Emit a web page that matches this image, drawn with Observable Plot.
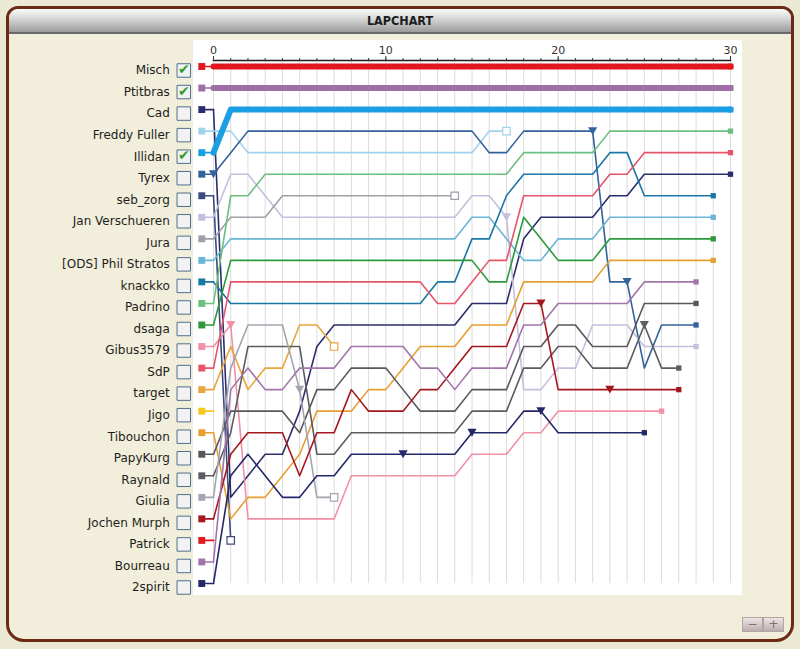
<!DOCTYPE html>
<html><head><meta charset="utf-8">
<script src="https://cdn.jsdelivr.net/npm/d3@7"></script>
<script src="https://cdn.jsdelivr.net/npm/@observablehq/plot@0.6"></script>
<style>
html,body{margin:0;padding:0;width:800px;height:649px;overflow:hidden;background:#ebe8d3;font-family:"DejaVu Sans",Verdana,sans-serif;}
#panel{position:absolute;left:6px;top:6px;width:782px;height:630px;border:3px solid #6c2a12;border-radius:12px 12px 18px 18px;background:#f1eedb;}
#title{position:absolute;left:0;top:0;right:0;height:23px;background:linear-gradient(#fbfbfb,#d4d4d4 45%,#9b9b9b);border-radius:9px 9px 0 0;border-bottom:2px solid #6a6a6a;text-align:center;font-family:"DejaVu Sans Condensed","DejaVu Sans",sans-serif;font-stretch:condensed;font-weight:bold;font-size:12.5px;line-height:24px;color:#1c1c1c;}
#white{position:absolute;left:193px;top:40px;width:549px;height:555px;background:#ffffff;}
#chart{position:absolute;left:0;top:40px;}
.btn{position:absolute;top:617px;width:19px;height:13px;background:linear-gradient(#eee4e4,#bcaeae);border:1px solid #b3a3a3;color:#7a7070;font-size:12px;line-height:13px;text-align:center;}
</style></head>
<body>
<div id="panel"><div id="title">LAPCHART</div></div>
<div id="white"></div>
<div id="chart"></div>
<div class="btn" style="left:742px">&#8722;</div>
<div class="btn" style="left:763px">+</div>
<script>
// ---------- data ----------
const drivers = ["Misch","Ptitbras","Cad","Freddy Fuller","Illidan","Tyrex","seb_zorg","Jan Verschueren","Jura","[ODS] Phil Stratos","knackko","Padrino","dsaga","Gibus3579","SdP","target","Jigo","Tibouchon","PapyKurg","Raynald","Giulia","Jochen Murph","Patrick","Bourreau","2spirit"];
const colors = ["#e2161d","#9e6ea6","#2b2e6c","#9fd2ec","#1a9fe4","#33639c","#3b4c7c","#c3c0dd","#9fa0a8","#6ab6d6","#1877a6","#6cbf7e","#2c9a3a","#f290a6","#e6556a","#e9a53e","#f6c61e","#e79f31","#58585c","#5d5d61","#a3a5b0","#a4171f","#e3191d","#a275aa","#24286a"];
const checkedDrivers = ["Misch","Ptitbras","Illidan"];
const retiredDrivers = ["seb_zorg","target","Giulia","Jura","Freddy Fuller"];
const nonStarters = ["Jigo","Patrick"];
const pitDrivers = ["Tyrex","Gibus3579","Giulia","2spirit","2spirit","Jan Verschueren","Jochen Murph","2spirit","Tyrex","Jochen Murph","Tyrex","Raynald"];
const pitLaps    = [0,1,5,11,15,17,19,19,22,23,24,25];
const laps = [0,1,2,3,4,5,6,7,8,9,10,11,12,13,14,15,16,17,18,19,20,21,22,23,24,25,26,27,28,29,30];
const tickValues = [0,10,20,30];
const tickLabels = ["0","10","20","30"];

// position per lap (lap 0 = grid)
const pMisch     = [1,1,1,1,1,1,1,1,1,1,1,1,1,1,1,1,1,1,1,1,1,1,1,1,1,1,1,1,1,1,1];
const pPtitbras  = [2,2,2,2,2,2,2,2,2,2,2,2,2,2,2,2,2,2,2,2,2,2,2,2,2,2,2,2,2,2,2];
const pCad       = [3,21,20,19,19,17,14,13,13,13,13,13,13,13,13,12,12,12,9,8,8,8,8,7,7,6,6,6,6,6,6];
const pFreddy    = [4,4,5,5,5,5,5,5,5,5,5,5,5,5,5,5,4,4];
const pIllidan   = [5,3,3,3,3,3,3,3,3,3,3,3,3,3,3,3,3,3,3,3,3,3,3,3,3,3,3,3,3,3,3];
const pTyrex     = [6,5,4,4,4,4,4,4,4,4,4,4,4,4,4,4,5,5,4,4,4,4,4,11,11,15,13,13,13];
const pSebZorg   = [7,23];
const pJan       = [8,6,6,7,8,8,8,8,8,8,8,8,8,8,8,7,7,8,16,16,15,15,13,13,13,14,14,14,14];
const pJura      = [9,8,8,8,7,7,7,7,7,7,7,7,7,7,7];
const pODS       = [10,9,9,9,9,9,9,9,9,9,9,9,9,9,9,8,8,9,10,10,9,9,9,8,8,8,8,8,8,8];
const pKnackko   = [11,12,12,12,12,12,12,12,12,12,12,12,12,11,11,9,9,7,6,6,6,6,6,5,5,7,7,7,7,7];
const pPadrino   = [12,7,7,6,6,6,6,6,6,6,6,6,6,6,6,6,6,6,5,5,5,5,5,4,4,4,4,4,4,4,4];
const pDsaga     = [13,10,10,10,10,10,10,10,10,10,10,10,10,10,10,10,11,11,8,9,10,10,10,9,9,9,9,9,9,9];
const pGibus     = [14,13,22,22,22,22,22,22,20,20,20,20,20,20,20,19,19,19,18,18,17,17,17,17,17,17,17];
const pSdP       = [15,11,11,11,11,11,11,11,11,11,11,11,11,12,12,11,10,10,7,7,7,7,7,6,6,5,5,5,5,5,5];
const pTarget    = [16,14,16,15,15,13,13,14];
const pJigo      = [17];
const pTibouchon = [18,22,21,21,20,19,17,17,17,16,16,15,14,14,14,13,13,13,11,11,11,11,11,10,10,10,10,10,10,10];
const pPapyKurg  = [19,17,17,17,17,18,16,16,15,15,15,16,17,17,17,16,16,16,14,14,13,13,14,14,14,12,12,12,12];
const pRaynald   = [20,18,14,14,14,14,19,19,18,18,18,18,18,18,18,17,17,17,15,15,14,14,15,15,15,13,15,15];
const pGiulia    = [21,15,13,13,13,16,21,21];
const pJochen    = [22,19,18,18,18,20,18,18,16,17,17,17,16,16,15,14,14,14,12,12,16,16,16,16,16,16,16,16];
const pPatrick   = [23];
const pBourreau  = [24,16,15,16,16,15,15,15,14,14,14,14,15,15,16,15,15,15,13,13,12,12,12,12,12,11,11,11,11];
const p2spirit   = [25,20,19,20,21,21,20,20,19,19,19,19,19,19,19,18,18,18,17,17,18,18,18,18,18,18];

const positions = [pMisch,pPtitbras,pCad,pFreddy,pIllidan,pTyrex,pSebZorg,pJan,pJura,pODS,pKnackko,pPadrino,pDsaga,pGibus,pSdP,pTarget,pJigo,pTibouchon,pPapyKurg,pRaynald,pGiulia,pJochen,pPatrick,pBourreau,p2spirit];

// ---------- layout constants ----------
const legendLap = -0.68;

// ---------- derived tables ----------
const rows = [];
drivers.forEach((d,i)=>positions[i].forEach((p,l)=>rows.push({driver:d,lap:laps[l],pos:p,color:colors[i],thick:checkedDrivers.includes(d)})));
const legendRows = drivers.map((d,i)=>({driver:d,lap:legendLap,pos:positions[i][0],color:colors[i],checked:checkedDrivers.includes(d)}));
const connRows = legendRows.flatMap(r=>[r,{...r,lap:laps[0]}]);
const lastRows = drivers.map((d,i)=>({driver:d,lap:laps[positions[i].length-1],pos:positions[i][positions[i].length-1],color:colors[i],thick:checkedDrivers.includes(d)}))
  .filter(r=>!nonStarters.includes(r.driver));
const finRows = lastRows.filter(r=>!retiredDrivers.includes(r.driver));
const retRows = lastRows.filter(r=>retiredDrivers.includes(r.driver));
const pitRows = pitDrivers.map((d,k)=>{const i=drivers.indexOf(d);return {driver:d,lap:pitLaps[k],pos:positions[i][pitLaps[k]],color:colors[i]};});

const downTriangle = {draw(ctx,size){const s=Math.sqrt(size);const h=s*0.85;ctx.moveTo(-s/2,-h/2);ctx.lineTo(s/2,-h/2);ctx.lineTo(0,h/2);ctx.closePath();}};

const chart = Plot.plot({
  width:800, height:560,
  marginLeft:213, marginRight:70, marginTop:20, marginBottom:17,
  style:{background:"transparent",overflow:"visible"},
  x:{domain:[0,30],range:[213,730],axis:null},
  y:{domain:[1,25],range:[26,543],axis:null},
  color:{type:"identity"},
  marks:[
    Plot.gridX(laps,{stroke:"#dcdcdc",strokeOpacity:1,strokeWidth:1}),
    Plot.frame({anchor:"top",stroke:"#1e1e1e",strokeWidth:1.6}),
    Plot.axisX(laps,{anchor:"top",tickSize:3,tickFormat:()=>"",stroke:"#333",label:null}),
    Plot.axisX(tickValues,{anchor:"top",tickSize:5,tickPadding:2,tickFormat:d=>tickLabels[tickValues.indexOf(d)],fontSize:11,fill:"#333",stroke:"#333",fontFamily:"DejaVu Sans",label:null}),
    Plot.line(connRows,{x:"lap",y:"pos",z:"driver",stroke:d=>d.color,strokeWidth:1.6}),
    Plot.line(rows.filter(r=>!r.thick),{x:"lap",y:"pos",z:"driver",stroke:d=>d.color,strokeWidth:1.6,strokeLinejoin:"round"}),
    Plot.line(rows.filter(r=>r.thick),{x:"lap",y:"pos",z:"driver",stroke:d=>d.color,strokeWidth:6,strokeLinejoin:"round"}),
    Plot.dot(pitRows,{x:"lap",y:"pos",fill:d=>d.color,symbol:downTriangle,r:5.2}),
    Plot.dot(finRows,{x:"lap",y:"pos",fill:d=>d.color,symbol:"square",r:d=>d.thick?5:4.2}),
    Plot.dot(retRows,{x:"lap",y:"pos",fill:"white",stroke:d=>d.color,strokeWidth:1.2,symbol:"square",r:4.2}),
    Plot.dot(legendRows,{x:"lap",y:"pos",fill:d=>d.color,symbol:"square",r:3.9}),
    Plot.dot(legendRows,{x:"lap",y:"pos",dx:-18,dy:4,fill:"#f2f2f2",stroke:"#4f6f8c",strokeWidth:1,symbol:"square",r:7.6}),
    Plot.text(legendRows.filter(r=>r.checked),{x:"lap",y:"pos",dx:-18,dy:3,text:()=>"\u2714",fill:"#2e9f2e",fontSize:14,fontFamily:"DejaVu Sans"}),
    Plot.text(legendRows,{x:"lap",y:"pos",dx:-32,dy:4,text:"driver",textAnchor:"end",fontSize:12,fill:"#1e1e1e",fontFamily:"DejaVu Sans"})
  ]
});
document.getElementById("chart").appendChild(chart);
</script>
</body></html>
